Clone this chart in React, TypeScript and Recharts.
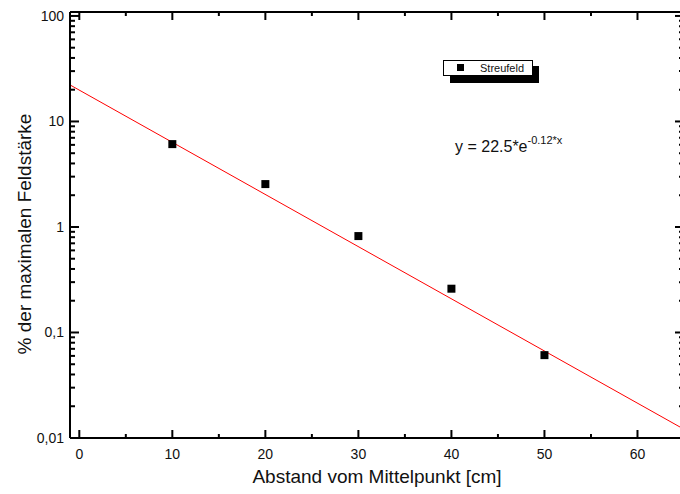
import { ComposedChart, XAxis, YAxis, Scatter, Line } from "recharts";

// measured stray field, % of the maximum, against distance from the centre
const distance = [10, 20, 30, 40, 50];
const fieldPercent = [6.1, 2.55, 0.82, 0.26, 0.061];

// exponential fit y = 22.5*e^(-0.12x), drawn as a straight segment on the log axis
const fitX = [-1, 65];
const fitY = [22.2, 0.0121];

const xMajor = [0, 10, 20, 30, 40, 50, 60];
const xMinor = [5, 15, 25, 35, 45, 55];
const yMajor = [0.01, 0.1, 1, 10, 100];
const yLabels = ["0,01", "0,1", "1", "10", "100"];
const yMinorSteps = [2, 3, 4, 5, 6, 7, 8, 9];

const points = distance.map((x, i) => ({ x, y: fieldPercent[i] }));
const fit = fitX.map((x, i) => ({ x, y: fitY[i] }));
const xTicks = [...xMajor, ...xMinor].sort((a, b) => a - b);
const yTicks = [
  ...yMajor,
  ...yMajor.slice(0, 4).flatMap((d) => yMinorSteps.map((s) => +(d * s).toPrecision(3))),
].sort((a, b) => a - b);

const FONT = "'Liberation Sans', Arial, Helvetica, sans-serif";
const W = 700;
const H = 494;

const isMajorX = (v: number) => xMajor.includes(v);
const yLabel = (v: number) => {
  const i = yMajor.indexOf(v);
  return i >= 0 ? yLabels[i] : null;
};

function BottomTick({ x, y, payload }: any) {
  const major = isMajorX(payload.value);
  return (
    <g>
      <line x1={x} x2={x} y1={y} y2={y - (major ? 8 : 4)} stroke="#000" strokeWidth={2} />
      {major && (
        <text x={x} y={y + 21} textAnchor="middle" fontSize={14} fontFamily={FONT} fill="#111">
          {payload.value}
        </text>
      )}
    </g>
  );
}

function TopTick({ x, y, payload }: any) {
  const major = isMajorX(payload.value);
  return <line x1={x} x2={x} y1={y} y2={y + (major ? 8 : 4)} stroke="#000" strokeWidth={2} />;
}

function LeftTick({ x, y, payload }: any) {
  const label = yLabel(payload.value);
  return (
    <g>
      <line x1={x} x2={x + (label ? 9 : 5)} y1={y} y2={y} stroke="#000" strokeWidth={2} />
      {label && (
        <text x={x - 6} y={y + 5} textAnchor="end" fontSize={14} fontFamily={FONT} fill="#111">
          {label}
        </text>
      )}
    </g>
  );
}

function RightTick({ x, y, payload }: any) {
  const label = yLabel(payload.value);
  return <line x1={x} x2={x - (label ? 9 : 5)} y1={y} y2={y} stroke="#000" strokeWidth={2} />;
}

const axisLine = { stroke: "#000", strokeWidth: 2 };

export default function App() {
  return (
    <div
      style={{
        position: "absolute",
        left: 0,
        top: 0,
        width: 680,
        height: H,
        overflow: "hidden",
        background: "#fff",
        fontFamily: FONT,
      }}
    >
      <ComposedChart width={W} height={H} margin={{ top: 11, right: 15, bottom: 55, left: 69 }}>
        <XAxis
          dataKey="x"
          type="number"
          domain={[-1, 65]}
          allowDataOverflow
          ticks={xTicks}
          interval={0}
          height={1}
          tickSize={0}
          tickMargin={0}
          tickLine={false}
          tick={<BottomTick />}
          axisLine={axisLine}
        />
        <XAxis
          xAxisId="top"
          orientation="top"
          dataKey="x"
          type="number"
          domain={[-1, 65]}
          allowDataOverflow
          ticks={xTicks}
          interval={0}
          height={1}
          tickSize={0}
          tickMargin={0}
          tickLine={false}
          tick={<TopTick />}
          axisLine={axisLine}
        />
        <YAxis
          dataKey="y"
          scale="log"
          type="number"
          domain={[0.01, 109]}
          allowDataOverflow
          ticks={yTicks}
          interval={0}
          width={1}
          tickSize={0}
          tickMargin={0}
          tickLine={false}
          tick={<LeftTick />}
          axisLine={axisLine}
        />
        <YAxis
          yAxisId="r"
          orientation="right"
          dataKey="y"
          scale="log"
          type="number"
          domain={[0.01, 109]}
          allowDataOverflow
          ticks={yTicks}
          interval={0}
          width={1}
          tickSize={0}
          tickMargin={0}
          tickLine={false}
          tick={<RightTick />}
          axisLine={axisLine}
        />
        <Line
          data={fit}
          dataKey="y"
          type="linear"
          stroke="#ff0000"
          strokeWidth={1}
          dot={false}
          activeDot={false}
          isAnimationActive={false}
        />
        <Scatter
          name="Streufeld"
          data={points}
          dataKey="y"
          shape="square"
          fill="#000"
          isAnimationActive={false}
        />
      </ComposedChart>

      <svg
        width={680}
        height={H}
        style={{ position: "absolute", left: 0, top: 0, pointerEvents: "none" }}
        fontFamily={FONT}
      >
        {/* legend box with drop shadow */}
        <rect x={450} y={66} width={89} height={17} fill="#000" />
        <rect x={443.5} y={60.5} width={89} height={15} fill="#fff" stroke="#000" strokeWidth={1} />
        <rect x={457} y={64} width={7} height={7} fill="#000" />
        <text x={480} y={72} fontSize={11} fill="#111">
          Streufeld
        </text>

        {/* fit equation */}
        <text x={455} y={152} fontSize={16} fill="#111">
          y = 22.5*e
          <tspan fontSize={11} dy={-8}>
            -0.12*x
          </tspan>
        </text>

        {/* axis titles */}
        <text x={377} y={483} textAnchor="middle" fontSize={19} fill="#111">
          Abstand vom Mittelpunkt [cm]
        </text>
        <text
          x={0}
          y={0}
          transform="translate(31 234) rotate(-90)"
          textAnchor="middle"
          fontSize={19}
          fill="#111"
        >
          % der maximalen Feldstärke
        </text>
      </svg>
    </div>
  );
}
